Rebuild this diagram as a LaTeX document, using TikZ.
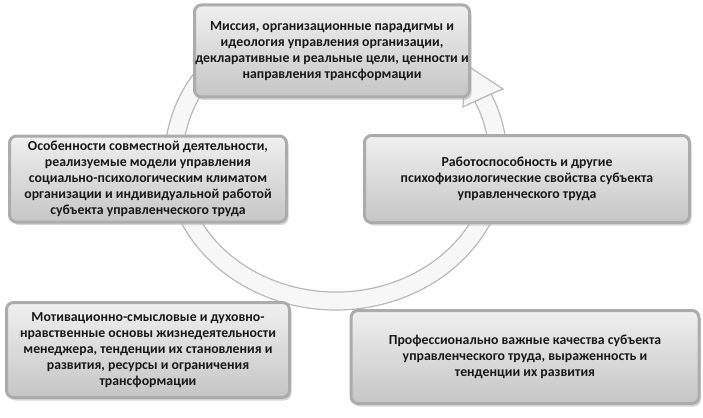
\documentclass[tikz,border=0pt]{standalone}
\usepackage{fontspec}
\setmainfont{Carlito}
\usetikzlibrary{shadows}
\begin{document}
\begin{tikzpicture}[x=1pt,y=-1pt,
  box/.style={rounded corners=7pt, draw=gray!65, line width=3pt, top color=gray!12, bottom color=gray!45, drop shadow={shadow xshift=2pt,shadow yshift=-3pt,fill=gray!60}},
  txt/.style={align=center, font=\bfseries\fontsize{13.8}{16}\selectfont, text=black!90},
  ring/.style={draw=gray!55, line width=1.2pt, fill=gray!6}]
\useasboundingbox (0,0) rectangle (703,417);
% ring
\filldraw[ring] (306.3,8.3) arc[start angle=-100,end angle=-385,x radius=171,y radius=152]
  -- (474.7,101.4) arc[start angle=-385,end angle=-100,x radius=153,y radius=134] -- cycle;
\coordinate (tip) at (465,64);
\filldraw[ring] (474.7,101.4) -- (463,107) -- (tip) -- (503,89) -- (491,94) -- cycle;
% boxes
\node[box, minimum width=275pt, minimum height=92pt] (b1) at (332,51) {};
\node[txt] at (b1) {Миссия, организационные парадигмы и\\идеология управления организации,\\декларативные и реальные цели, ценности и\\направления трансформации};
\node[box, minimum width=277pt, minimum height=86pt] (b2) at (148,179) {};
\node[txt] at (b2) {Особенности совместной деятельности,\\реализуемые модели управления\\социально-психологическим климатом\\организации и индивидуальной работой\\субъекта управленческого труда};
\node[box, minimum width=325pt, minimum height=87pt] (b3) at (527,179) {};
\node[txt] at (b3) {Работоспособность и другие\\психофизиологические свойства субъекта\\управленческого труда};
\node[box, minimum width=283pt, minimum height=95pt] (b4) at (148,350) {};
\node[txt] at (b4) {Мотивационно-смысловые и духовно-\\нравственные основы жизнедеятельности\\менеджера, тенденции их становления и\\развития, ресурсы и ограничения\\трансформации};
\node[box, minimum width=348pt, minimum height=93pt] (b5) at (525,357) {};
\node[txt] at (b5) {Профессионально важные качества субъекта\\управленческого труда, выраженность и\\тенденции их развития};
\end{tikzpicture}
\end{document}
